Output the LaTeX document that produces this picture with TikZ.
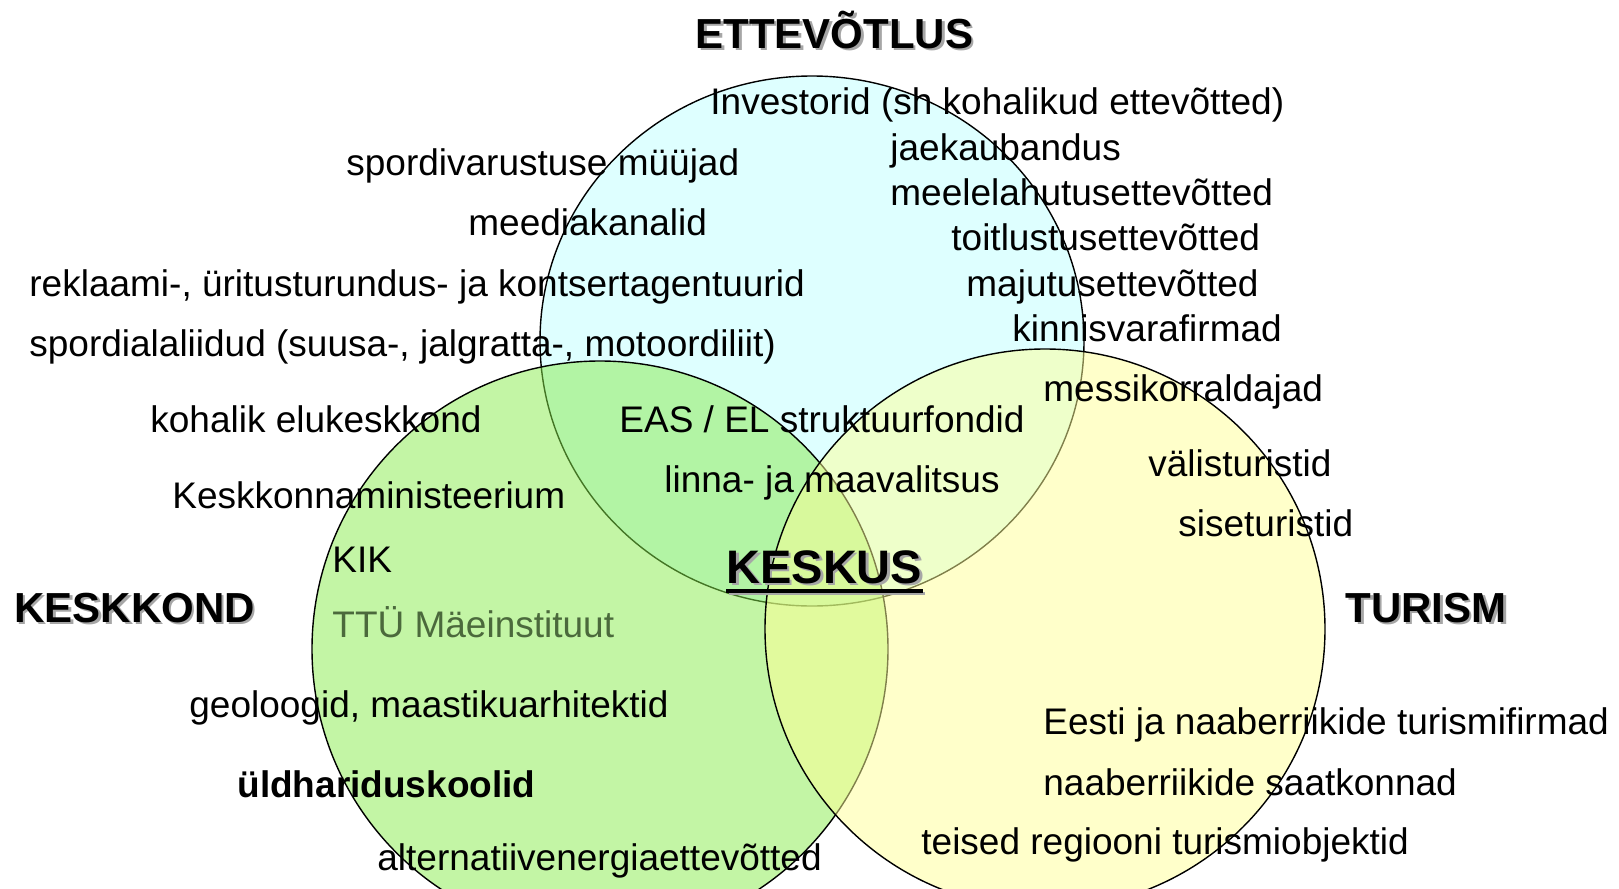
\documentclass[tikz,border=0pt]{standalone}
\usepackage{fontspec}
\setmainfont{Liberation Sans}
\definecolor{ettecyan}{RGB}{222,255,255}
\definecolor{keskgreen}{RGB}{135,235,75}
\definecolor{turyellow}{RGB}{255,255,150}
\definecolor{ttugreen}{RGB}{75,105,60}
\newcommand\shadowed[1]{\rlap{\hspace{1.3pt}\raisebox{-1.3pt}{\color{black!35}#1}}#1}

\begin{document}
\begin{tikzpicture}[x=0.5pt, y=-0.5pt,
  every node/.style = {inner sep=0pt, anchor=base west,
    font=\fontsize{18.5}{22}\selectfont},
  heading/.style = {font=\fontsize{21}{25}\selectfont\bfseries},
  ring/.style = {draw=black, line width=0.7pt}]
  \useasboundingbox (0,0) rectangle (1619,889);
  % ringid
  \path[ring, fill=ettecyan] (812,341) ellipse [x radius=272, y radius=265];
  \path[ring, fill=keskgreen, fill opacity=0.5] (600,649) circle [radius=288];
  \path[ring, fill=turyellow, fill opacity=0.5] (1045,629) circle [radius=280];
  % pealkirjad
  \node[heading] (ettevotlus) at (695,48) {\shadowed{ETTEVÕTLUS}};
  \node[heading] (keskkond) at (14,622) {\shadowed{KESKKOND}};
  \node[heading] (turism) at (1345,622) {\shadowed{TURISM}};
  \node[heading, font=\fontsize{23.5}{27}\selectfont\bfseries] (keskus) at (726,583) {\shadowed{KESKUS}};
  \draw[black!35, line width=1.8pt] ([shift={(1.3pt,-5.3pt)}]keskus.base west) -- ([shift={(1.3pt,-5.3pt)}]keskus.base east);
  \draw[line width=1.8pt] ([yshift=-4pt]keskus.base west) -- ([yshift=-4pt]keskus.base east);
  % ettevotlus
  \node (investorid) at (710,114) {Investorid (sh kohalikud ettevõtted)};
  \node (sport) at (346,175) {spordivarustuse müüjad};
  \node (jaekaubandus) at (890,160) {jaekaubandus};
  \node (meelelahutus) at (890,205) {meelelahutusettevõtted};
  \node (meedia) at (468,235) {meediakanalid};
  \node (toitlustus) at (951,250) {toitlustusettevõtted};
  \node (reklaam) at (29,296) {reklaami-, üritusturundus- ja kontsertagentuurid};
  \node (majutus) at (966,296) {majutusettevõtted};
  \node (kinnisvara) at (1012,341) {kinnisvarafirmad};
  \node (alaliidud) at (29,356) {spordialaliidud (suusa-, jalgratta-, motoordiliit)};
  \node (messi) at (1043,401) {messikorraldajad};
  \node (eas) at (619,432) {EAS / EL struktuurfondid};
  \node (valitsus) at (664,492) {linna- ja maavalitsus};
  % keskkond
  \node (elukeskkond) at (150,432) {kohalik elukeskkond};
  \node (ministeerium) at (172,508) {Keskkonnaministeerium};
  \node (kik) at (332,572) {KIK};
  \node[text=ttugreen] (ttu) at (332,637) {TTÜ Mäeinstituut};
  \node (geoloogid) at (189,717) {geoloogid, maastikuarhitektid};
  \node[font=\fontsize{18.5}{22}\selectfont\bfseries] (koolid) at (237,797) {üldhariduskoolid};
  \node (energia) at (377,870) {alternatiivenergiaettevõtted};
  % turism
  \node (valis) at (1148,476) {välisturistid};
  \node (sise) at (1178,536) {siseturistid};
  \node (firmad) at (1043,734) {Eesti ja naaberriikide turismifirmad};
  \node (saatkonnad) at (1043,795) {naaberriikide saatkonnad};
  \node (objektid) at (921,854) {teised regiooni turismiobjektid};
\end{tikzpicture}
\end{document}
